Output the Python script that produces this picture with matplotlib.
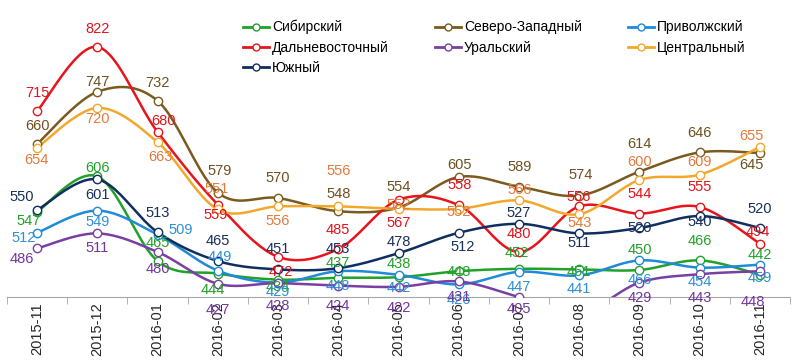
import numpy as np
import matplotlib
matplotlib.use("Agg")
import matplotlib.pyplot as plt
from matplotlib.lines import Line2D

plt.rcParams['font.family'] = ['Liberation Sans', 'DejaVu Sans']

# months on the x axis
months = ["2015-11", "2015-12", "2016-01", "2016-02", "2016-03", "2016-04", "2016-05",
          "2016-06", "2016-07", "2016-08", "2016-09", "2016-10", "2016-11"]

# values per region
sib = [547, 606, 465, 444, 434, 437, 438, 448, 452, 451, 450, 466, 442]
szap = [660, 747, 732, 579, 570, 548, 554, 605, 589, 574, 614, 646, 645]
privol = [512, 549, 509, 449, 429, 448, 442, 426, 447, 441, 466, 454, 459]
dalvost = [715, 822, 680, 559, 472, 485, 567, 558, 480, 556, 544, 555, 494]
ural = [486, 511, 480, 427, 428, 424, 422, 431, 405, 378, 429, 443, 448]
centr = [654, 720, 663, 551, 556, 556, 552, 552, 566, 543, 600, 609, 655]
yug = [550, 601, 513, 465, 451, 453, 478, 512, 527, 511, 520, 540, 520]

# label offsets in pixels (dx, dy), dy positive = up
off_sib = [(-8, -9), (0, 8), (0, 18), (-5, -16), (0, -7), (0, 15), (0, 13), (0, -1), (-2, 16), (0, -3), (0, 20), (0, 19), (0, 20)]
off_szap = [(0, 18), (0, 10), (0, 18), (2, 22), (0, 20), (0, 17), (0, 21), (1, 12), (1, 20), (1, 21), (0, 28), (0, 19), (-8, -12)]
off_privol = [(-13, -5), (0, -11), (23, 5), (2, 14), (0, -9), (0, -15), (0, -13), (0, -16), (0, -15), (0, -14), (0, -20), (0, -14), (0, -13)]
off_dalvost = [(0, 18), (0, 18), (6, 11), (-2, -10), (3, -15), (0, 19), (0, -23), (1, 20), (0, 18), (-1, 9), (0, 20), (0, 20), (-2, 12)]
off_ural = [(-15, -11), (0, -15), (0, -17), (0, -26), (0, -23), (0, -20), (0, -21), (0, -16), (0, -12), (0, -12), (0, -15), (0, -24), (-7, -31)]
off_centr = [(-1, -12), (0, -11), (3, -15), (-1, 20), (0, -15), (0, 35), (0, 4), (0, -3), (1, 10), (0, -9), (0, 18), (0, 13), (-8, 11)]
off_yug = [(-15, 13), (0, -16), (0, 19), (0, 20), (0, 20), (0, 19), (0, 11), (4, -14), (0, 11), (0, -10), (0, 0), (0, -6), (0, 19)]

series = [
    ("Сибирский", sib, off_sib, "#22a12a", "#22a12a"),
    ("Северо-Западный", szap, off_szap, "#7b5a1f", "#6e5020"),
    ("Приволжский", privol, off_privol, "#1f8ad8", "#2e8fd6"),
    ("Дальневосточный", dalvost, off_dalvost, "#e8141c", "#e0141c"),
    ("Уральский", ural, off_ural, "#7a3fa2", "#7236a0"),
    ("Центральный", centr, off_centr, "#f2a82c", "#e27a3c"),
    ("Южный", yug, off_yug, "#102e60", "#17305c"),
]


def smooth(x, y, n=24):
    # Catmull-Rom style smoothing like spreadsheet "smoothed line"
    x = np.asarray(x, float)
    y = np.asarray(y, float)
    px = np.concatenate([[x[0]], x, [x[-1]]])
    py = np.concatenate([[y[0]], y, [y[-1]]])
    xs, ys = [], []
    t = np.linspace(0, 1, n)
    for i in range(1, len(px) - 2):
        p0 = np.array([px[i], py[i]])
        p3 = np.array([px[i + 1], py[i + 1]])
        c1 = p0 + (np.array([px[i + 1], py[i + 1]]) - np.array([px[i - 1], py[i - 1]])) / 6
        c2 = p3 - (np.array([px[i + 2], py[i + 2]]) - np.array([px[i], py[i]])) / 6
        b = ((1 - t) ** 3)[:, None] * p0 + (3 * (1 - t) ** 2 * t)[:, None] * c1 \
            + (3 * (1 - t) * t ** 2)[:, None] * c2 + (t ** 3)[:, None] * p3
        xs.extend(b[:, 0])
        ys.extend(b[:, 1])
    return np.array(xs), np.array(ys)


fig = plt.figure(figsize=(8, 3.64), dpi=100)
ax = fig.add_axes([7 / 800, 67 / 364, 783 / 800, 297 / 364])

x = np.arange(len(months))
handles = {}
for name, vals, offs, lc, tc in series:
    sx, sy = smooth(x, vals)
    ax.plot(sx, sy, color=lc, lw=1.8, zorder=2)
    ax.plot(x, vals, ls="none", marker="o", ms=6, mfc="white", mec=lc, mew=1.0, zorder=3)
    for xi, v, (dx, dy) in zip(x, vals, offs):
        ax.annotate(str(v), (xi, v), xytext=(dx, dy), textcoords="offset pixels",
                    ha="center", va="center", fontsize=10.5, color=tc, zorder=4)
    handles[name] = Line2D([], [], color=lc, lw=2, marker="o", ms=5, mfc="white", mec=lc, mew=1.0)

ax.set_xlim(-0.5, len(months) - 0.5)
ax.set_ylim(405, 900)
for s in ["top", "right", "left"]:
    ax.spines[s].set_visible(False)
ax.spines["bottom"].set_color("#a6a6a6")
ax.set_yticks([])
ax.set_xticks(x)
ax.set_xticklabels(months, rotation=90, fontsize=10.5, color="#262626")
ax.tick_params(axis="x", which="major", length=0, pad=4)
ax.set_xticks(np.arange(-0.5, len(months), 1), minor=True)
ax.tick_params(axis="x", which="minor", length=5, color="#a6a6a6")

order = ["Сибирский", "Дальневосточный", "Южный", "Северо-Западный", "Уральский",
         "Приволжский", "Центральный"]
fig.legend([handles[n] for n in order], order, loc="upper left",
           bbox_to_anchor=(243 / 800, 1 - 20 / 364), ncol=3, frameon=False,
           fontsize=10, handlelength=1.9, handletextpad=0.2, columnspacing=3.3,
           labelspacing=0.45, borderaxespad=0, borderpad=0)

fig.savefig("out.png", dpi=100)
